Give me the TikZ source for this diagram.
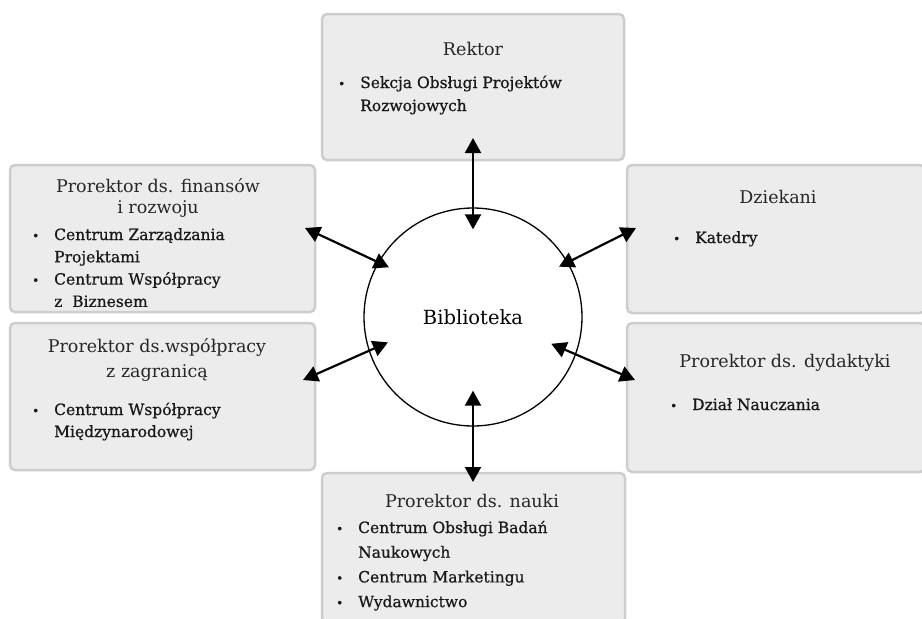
\documentclass[tikz,border=0pt]{standalone}
\usepackage{fontspec}
\setmainfont{DejaVu Serif}
\newfontfamily\punktfont{DejaVu Serif}[FakeBold=0.7]
\usetikzlibrary{arrows.meta}

\definecolor{ramka}{RGB}{205,205,205}
\definecolor{tlo}{RGB}{236,236,236}

\newcommand{\naglowek}[1]{\begin{tabular}[t]{@{}c@{}}#1\end{tabular}}
\newcommand{\punkty}[1]{\begin{tabular}[t]{@{}l@{}l@{}}#1\end{tabular}}
\newcommand{\pkt}{\makebox[22pt][l]{\fontsize{12}{12}\selectfont\textbullet}}

\begin{document}
\begin{tikzpicture}[x=1pt,y=-1pt,>={Triangle[length=15pt,width=16pt]},
    skrzynka/.style={draw=ramka,line width=2.5pt,fill=tlo,rounded corners=5pt,
        anchor=north west,inner sep=0pt,outer sep=0pt},
    tytul/.style={anchor=base,inner sep=0pt,text=black!85,
        font=\fontsize{17.5}{23}\selectfont},
    lista/.style={anchor=base west,inner sep=0pt,text=black!90,
        font=\punktfont\fontsize{15.5}{23}\selectfont},
    polaczenie/.style={<->,line width=2.2pt}]

    \useasboundingbox (0,0) rectangle (922,619);

    % Boxes
    \node[skrzynka,minimum width=302pt,minimum height=146pt] (rektor) at (322,14) {};
    \node[skrzynka,minimum width=305pt,minimum height=147pt] (fin) at (10,165) {};
    \node[skrzynka,minimum width=305pt,minimum height=147pt] (wsp) at (10,323) {};
    \node[skrzynka,minimum width=298pt,minimum height=148pt] (dzie) at (627,165) {};
    \node[skrzynka,minimum width=298pt,minimum height=149pt] (dyd) at (627,323) {};
    \node[skrzynka,minimum width=303pt,minimum height=150pt] (nauki) at (322,473) {};

    % Centre
    \node[draw,circle,minimum size=218pt,line width=1.3pt,fill=white,
        font=\fontsize{19.5}{22}\selectfont] (bib) at (473,317) {Biblioteka};

    % Texts
    \node[tytul] (rektor-t) at (473,55) {Rektor};
    \node[lista] (rektor-l) at (338,88) {\punkty{\pkt & Sekcja Obsługi Projektów\\
        & Rozwojowych}};

    \node[tytul,font=\fontsize{17.5}{21}\selectfont] (fin-t) at (158,192)
        {\naglowek{Prorektor ds. finansów\\ i rozwoju}};
    \node[lista,font=\punktfont\fontsize{15.5}{22.3}\selectfont] (fin-l) at (32,240)
        {\punkty{\pkt & Centrum Zarządzania\\ & Projektami\\
        \pkt & Centrum Współpracy\\ & z~ Biznesem}};

    \node[tytul,font=\fontsize{17.5}{25}\selectfont] (wsp-t) at (157,352)
        {\naglowek{Prorektor ds.współpracy\\ z zagranicą}};
    \node[lista,font=\punktfont\fontsize{15.5}{22}\selectfont] (wsp-l) at (32,415)
        {\punkty{\pkt & Centrum Współpracy\\ & Międzynarodowej}};

    \node[tytul] (dzie-t) at (778,203) {Dziekani};
    \node[lista] (dzie-l) at (673,243) {\punkty{\pkt & Katedry}};

    \node[tytul] (dyd-t) at (785,367) {Prorektor ds. dydaktyki};
    \node[lista] (dyd-l) at (670,410) {\punkty{\pkt & Dział Nauczania}};

    \node[tytul] (nauki-t) at (472,507) {Prorektor ds. nauki};
    \node[lista,font=\punktfont\fontsize{15.5}{24.7}\selectfont] (nauki-l) at (336,533)
        {\punkty{\pkt & Centrum Obsługi Badań\\ & Naukowych\\
        \pkt & Centrum Marketingu\\ \pkt & Wydawnictwo}};

    % Arrows
    \coordinate (fin-k) at (305,228);
    \coordinate (dzie-k) at (636,228);
    \coordinate (wsp-k) at (303,380);
    \coordinate (dyd-k) at (635,380);

    \draw[polaczenie,shorten <=-22pt,shorten >=-22pt] (rektor.south -| bib.north) -- (bib.north);
    \draw[polaczenie,shorten <=-9pt,shorten >=-36pt] (nauki.north -| bib.south) -- (bib.south);
    \draw[polaczenie,shorten >=-12pt] (fin-k) -- (bib.150);
    \draw[polaczenie,shorten >=-10pt] (dzie-k) -- (bib.30);
    \draw[polaczenie,shorten >=-21pt] (wsp-k) -- (bib.198);
    \draw[polaczenie,shorten >=-27pt] (dyd-k) -- (bib.340);

\end{tikzpicture}
\end{document}
